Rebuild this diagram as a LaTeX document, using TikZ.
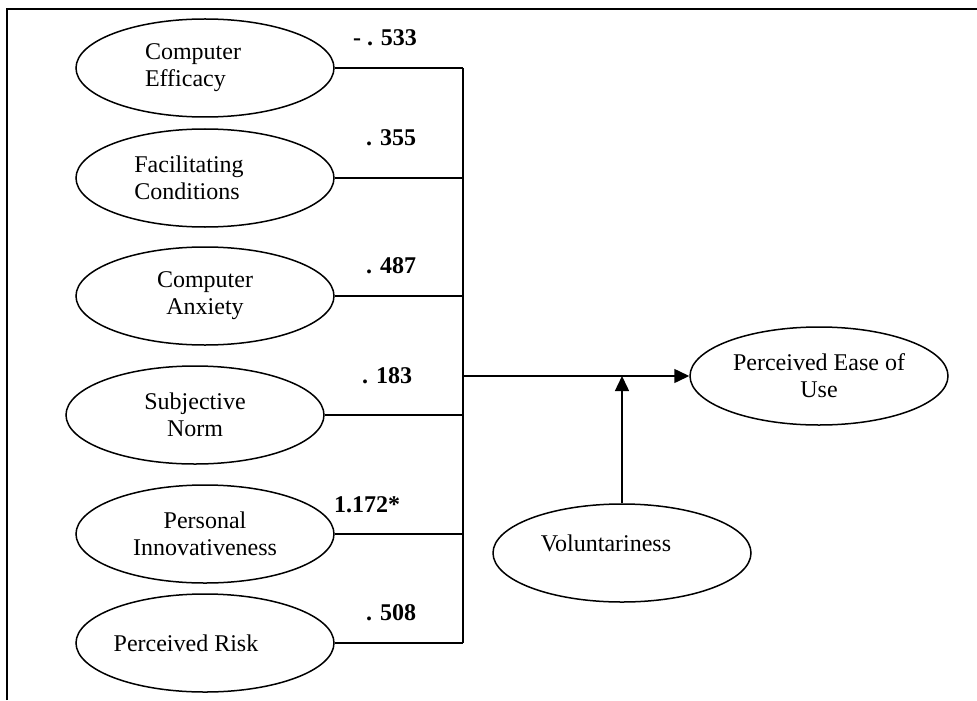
\documentclass[tikz,border=0pt]{standalone}
\usepackage{fontspec}
\setmainfont{Liberation Serif}
\usetikzlibrary{shapes.geometric,arrows.meta}

\tikzset{
  oval/.style={draw, ellipse, line width=0.75pt, minimum width=129pt, minimum height=49pt,
    inner sep=0pt, align=center, font=\fontsize{12}{13.5}\selectfont},
  txt/.style={inner sep=0pt, align=left, font=\fontsize{12}{13.5}\selectfont},
  coef/.style={inner sep=0pt, font=\bfseries\fontsize{12}{13.5}\selectfont},
  link/.style={line width=0.75pt},
  arr/.style={-{Triangle[length=7.5pt,width=7pt]}},
}

\begin{document}
\begin{tikzpicture}[x=0.5pt,y=-0.5pt]
\useasboundingbox (0,0) rectangle (977,700);
\draw[line width=1pt] (7,700)--(7,9)--(977,9);

% predictors
\node[oval, label={[txt,xshift=-6pt]center:{Computer\\Efficacy}}] (eff) at (205,68) {};
\node[oval, label={[txt,xshift=-8pt]center:{Facilitating\\Conditions}}] (fac) at (205,178) {};
\node[oval] (anx) at (205,296) {Computer\\Anxiety};
\node[oval] (norm) at (195,415) {Subjective\\Norm};
\node[oval] (inn) at (205,534) {Personal\\Innovativeness};
\node[oval, label={[txt,xshift=-9.5pt]center:Perceived Risk}] (risk) at (205,643) {};

% outcome and moderator
\node[oval] (peou) at (819,376) {Perceived Ease of\\Use};
\node[oval, label={[txt,xshift=-8pt,yshift=5pt]center:Voluntariness}] (vol) at (622,553) {};

\coordinate (bus) at (463,376);
\foreach \n in {eff,fac,anx,norm,inn,risk}
  \draw[link] (\n.east)--(\n.east -| bus);
\draw[link] (eff.east -| bus)--(risk.east -| bus);
\draw[link,arr] (bus)--(peou.west);
\draw[link,arr] (vol.north)--(vol.north |- bus);

% path coefficients
\node[coef] (ceff) at (385,38) {- . 533};
\node[coef] (cfac) at (391,138) {. 355};
\node[coef] (canx) at (391,266) {. 487};
\node[coef] (cnorm) at (387,376) {. 183};
\node[coef] (cinn) at (367,505) {1.172*};
\node[coef] (crisk) at (391,613) {. 508};

\end{tikzpicture}
\end{document}
